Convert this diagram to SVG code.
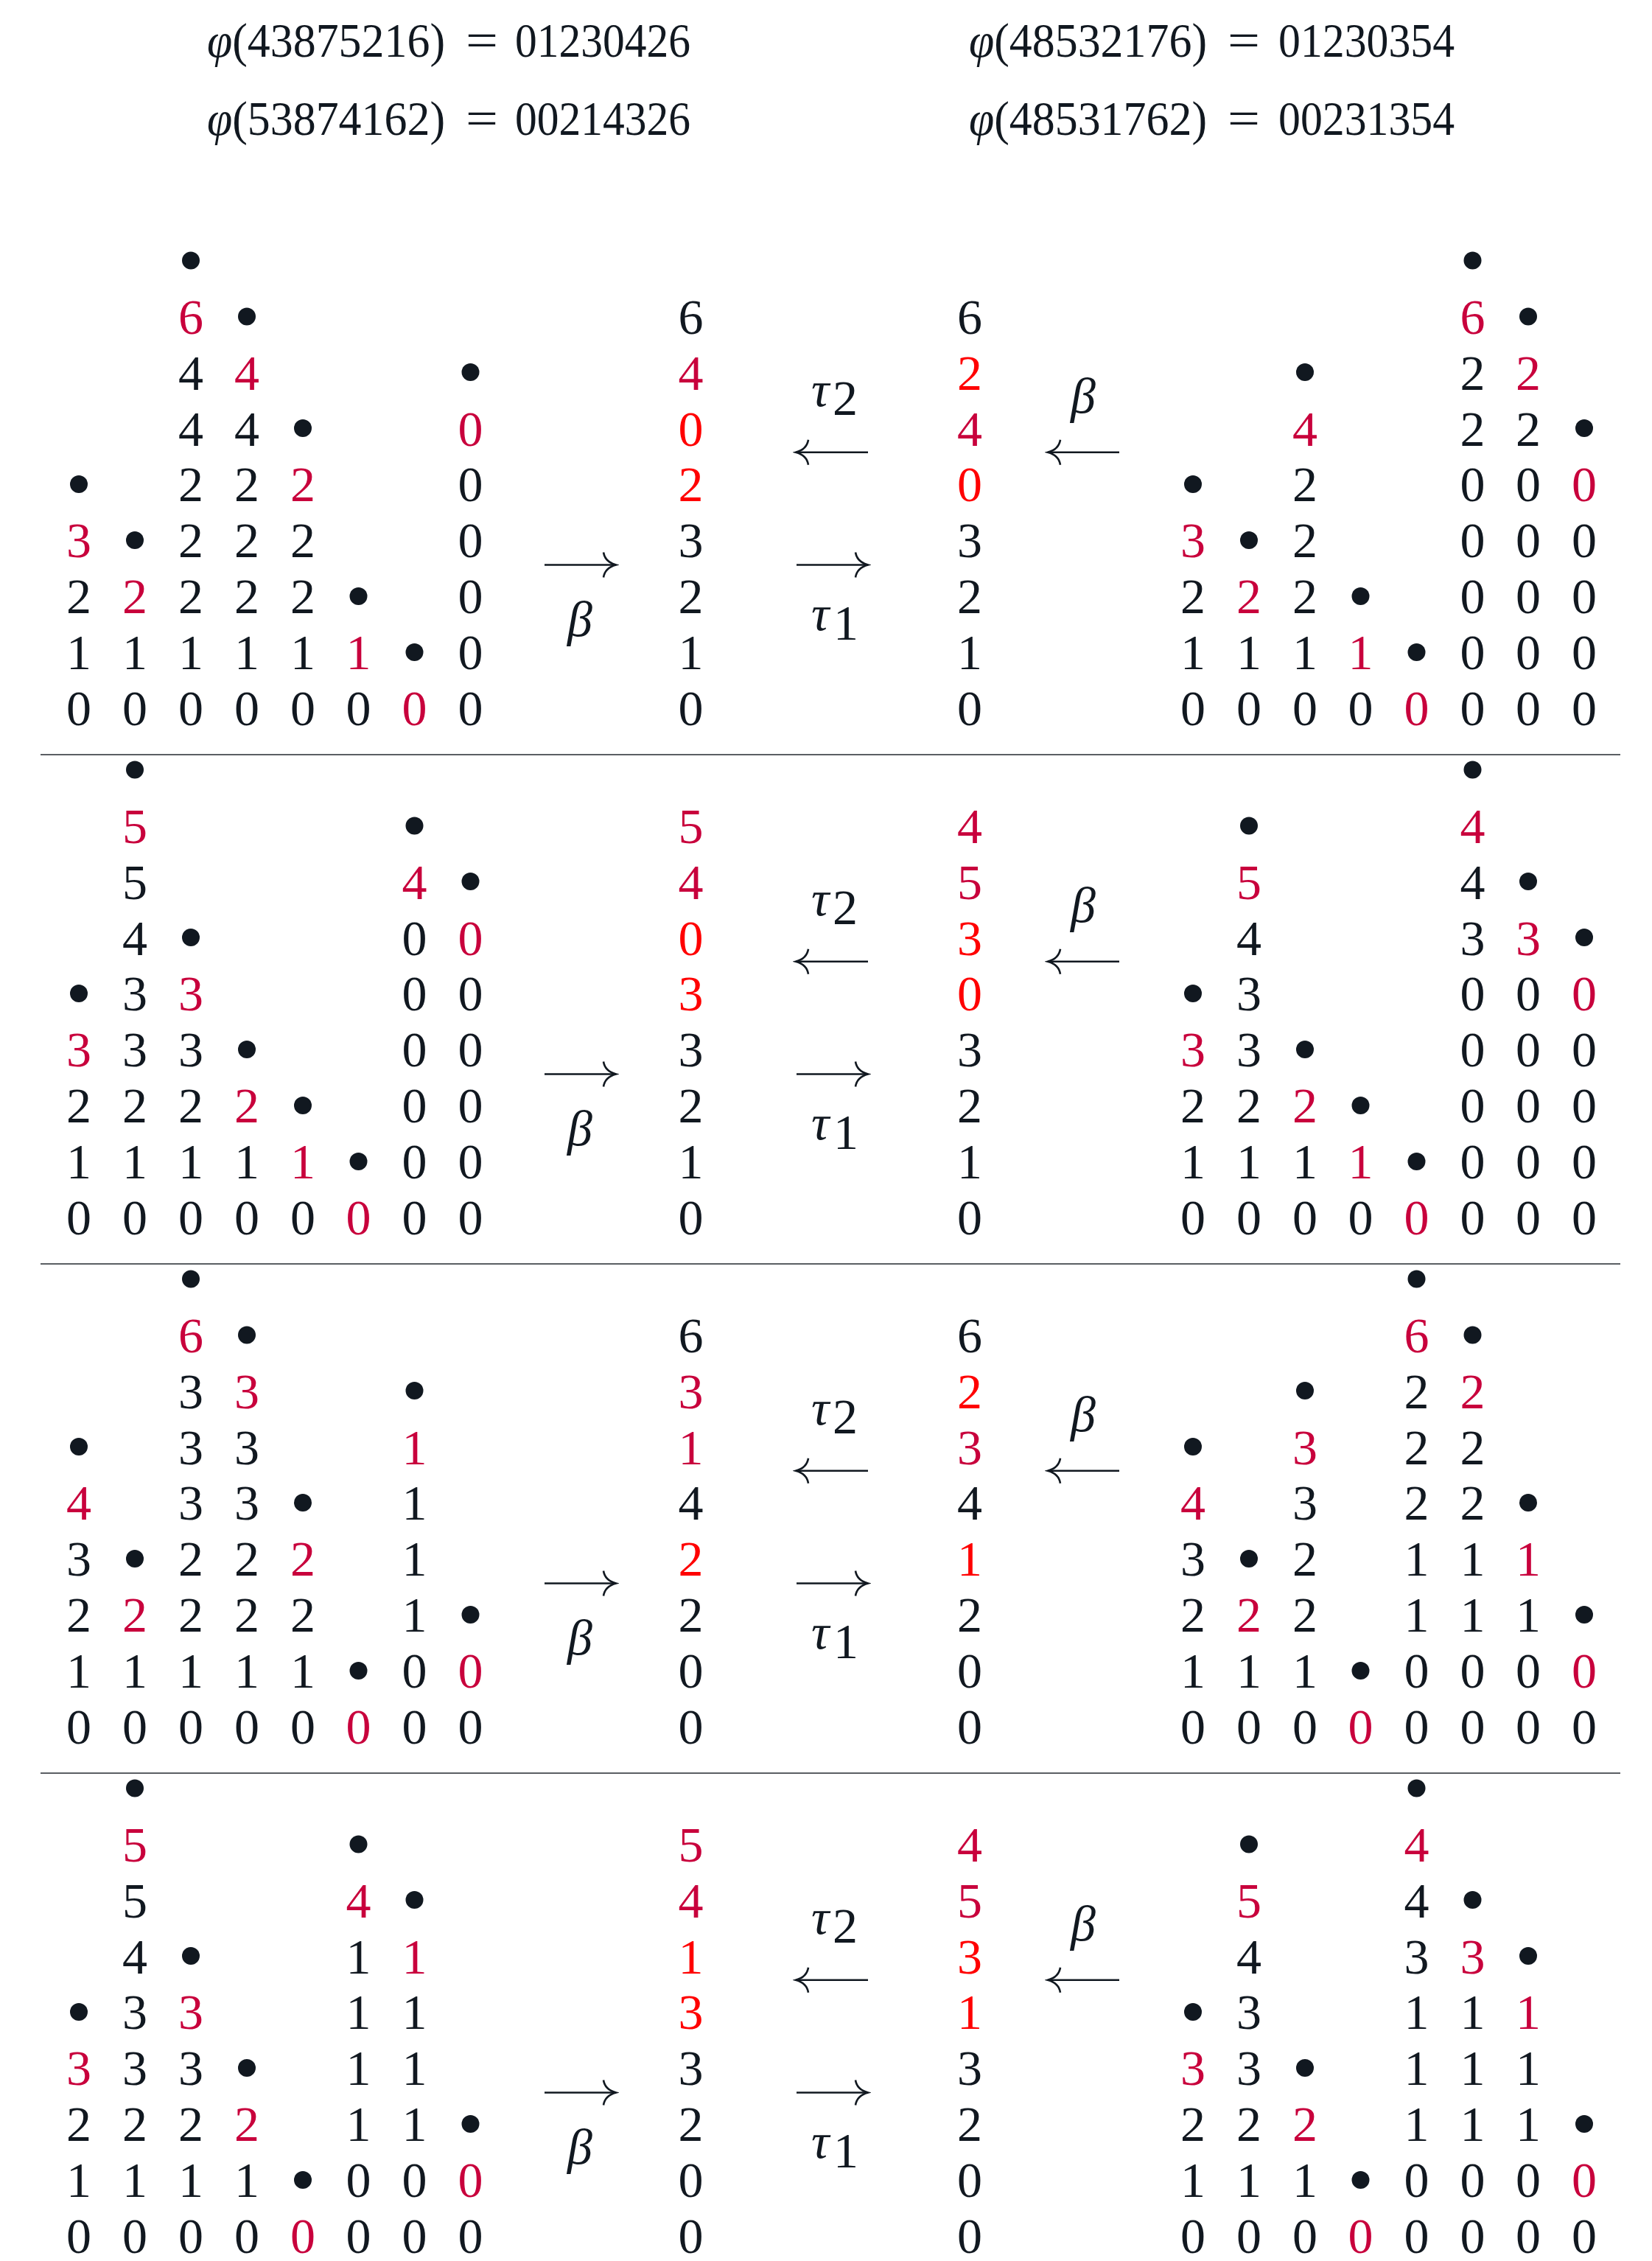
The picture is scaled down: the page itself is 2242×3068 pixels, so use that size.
<svg xmlns="http://www.w3.org/2000/svg" width="2242" height="3068" viewBox="0 0 2242 3068">
<style>
text{font-family:"Liberation Serif","Times New Roman",serif;font-size:68px;text-anchor:middle;fill:#111820}
text.h{text-anchor:start;font-size:66px}
text.i{font-style:italic}
text.s{text-anchor:start}
.c{fill:#c8003c}
.r{fill:#ff0000}
circle{fill:#111820}
.sep{stroke:#5a5e63;stroke-width:2}
.arr{stroke:#111820;stroke-width:2.6;fill:none}
</style>
<defs>
<marker id="ah" viewBox="-20 -20 24 40" refX="0" refY="0" markerWidth="24" markerHeight="40" markerUnits="userSpaceOnUse" orient="auto">
<path d="M-17,-17 Q-15,-4 0,0 Q-15,4 -17,17" fill="none" stroke="#111820" stroke-width="2.6"/>
</marker>
<g id="arrows">
<path class="arr" d="M739,766.5 H836" marker-end="url(#ah)"/>
<path class="arr" d="M1081,766.5 H1178" marker-end="url(#ah)"/>
<path class="arr" d="M1178,613.8 H1080" marker-end="url(#ah)"/>
<path class="arr" d="M1519,613.8 H1422" marker-end="url(#ah)"/>
</g>
</defs>

<g id="header">
<text class="h" x="281" y="77" textLength="323" lengthAdjust="spacingAndGlyphs"><tspan font-style="italic">φ</tspan>(43875216)</text>
<text class="h" x="632" y="77" textLength="44" lengthAdjust="spacingAndGlyphs">=</text>
<text class="h" x="699" y="77" textLength="238" lengthAdjust="spacingAndGlyphs">01230426</text>
<text class="h" x="281" y="183" textLength="323" lengthAdjust="spacingAndGlyphs"><tspan font-style="italic">φ</tspan>(53874162)</text>
<text class="h" x="632" y="183" textLength="44" lengthAdjust="spacingAndGlyphs">=</text>
<text class="h" x="699" y="183" textLength="238" lengthAdjust="spacingAndGlyphs">00214326</text>
<text class="h" x="1315" y="77" textLength="323" lengthAdjust="spacingAndGlyphs"><tspan font-style="italic">φ</tspan>(48532176)</text>
<text class="h" x="1666" y="77" textLength="44" lengthAdjust="spacingAndGlyphs">=</text>
<text class="h" x="1735" y="77" textLength="239" lengthAdjust="spacingAndGlyphs">01230354</text>
<text class="h" x="1315" y="183" textLength="323" lengthAdjust="spacingAndGlyphs"><tspan font-style="italic">φ</tspan>(48531762)</text>
<text class="h" x="1666" y="183" textLength="44" lengthAdjust="spacingAndGlyphs">=</text>
<text class="h" x="1735" y="183" textLength="239" lengthAdjust="spacingAndGlyphs">00231354</text>
</g>

<g id="separators">
<line class="sep" x1="55" y1="1024" x2="2199" y2="1024"/>
<line class="sep" x1="55" y1="1715" x2="2199" y2="1715"/>
<line class="sep" x1="55" y1="2406" x2="2199" y2="2406"/>
</g>

<g id="connectors">
<use href="#arrows"/>
<use href="#arrows" transform="translate(0,691)"/>
<use href="#arrows" transform="translate(0,1382)"/>
<use href="#arrows" transform="translate(0,2073)"/>
</g>

<!-- Panel 1 -->
<g id="panel1">
<g id="p1-left">
<g transform="translate(107,0)"><text y="984">0</text><text y="908">1</text><text y="832">2</text><text y="756" class="c">3</text><circle cy="657" r="12"/></g>
<g transform="translate(183,0)"><text y="984">0</text><text y="908">1</text><text y="832" class="c">2</text><circle cy="733" r="12"/></g>
<g transform="translate(259,0)"><text y="984">0</text><text y="908">1</text><text y="832">2</text><text y="756">2</text><text y="680">2</text><text y="604.5">4</text><text y="528.5">4</text><text y="452.5" class="c">6</text><circle cy="353.5" r="12"/></g>
<g transform="translate(335,0)"><text y="984">0</text><text y="908">1</text><text y="832">2</text><text y="756">2</text><text y="680">2</text><text y="604.5">4</text><text y="528.5" class="c">4</text><circle cy="429.5" r="12"/></g>
<g transform="translate(411,0)"><text y="984">0</text><text y="908">1</text><text y="832">2</text><text y="756">2</text><text y="680" class="c">2</text><circle cy="581" r="12"/></g>
<g transform="translate(486.5,0)"><text y="984">0</text><text y="908" class="c">1</text><circle cy="809" r="12"/></g>
<g transform="translate(562.5,0)"><text y="984" class="c">0</text><circle cy="885" r="12"/></g>
<g transform="translate(638.5,0)"><text y="984">0</text><text y="908">0</text><text y="832">0</text><text y="756">0</text><text y="680">0</text><text y="604.5" class="c">0</text><circle cy="505" r="12"/></g>
</g>
<g id="p1-mid">
<g transform="translate(937.5,0)"><text y="984">0</text><text y="908">1</text><text y="832">2</text><text y="756">3</text><text y="680" class="r">2</text><text y="604.5" class="r">0</text><text y="528.5" class="c">4</text><text y="452.5">6</text></g>
<g transform="translate(1316,0)"><text y="984">0</text><text y="908">1</text><text y="832">2</text><text y="756">3</text><text y="680" class="r">0</text><text y="604.5" class="c">4</text><text y="528.5" class="r">2</text><text y="452.5">6</text></g>
<text class="i" x="787" y="863">β</text>
<text class="i s" x="1101" y="855">τ</text><text class="s" x="1131" y="868" font-size="44">1</text>
<text class="i s" x="1101" y="551">τ</text><text class="s" x="1130" y="563" font-size="44">2</text>
<text class="i" x="1470" y="560">β</text>
</g>
<g id="p1-right">
<g transform="translate(1619,0)"><text y="984">0</text><text y="908">1</text><text y="832">2</text><text y="756" class="c">3</text><circle cy="657" r="12"/></g>
<g transform="translate(1695,0)"><text y="984">0</text><text y="908">1</text><text y="832" class="c">2</text><circle cy="733" r="12"/></g>
<g transform="translate(1771,0)"><text y="984">0</text><text y="908">1</text><text y="832">2</text><text y="756">2</text><text y="680">2</text><text y="604.5" class="c">4</text><circle cy="505" r="12"/></g>
<g transform="translate(1846.5,0)"><text y="984">0</text><text y="908" class="c">1</text><circle cy="809" r="12"/></g>
<g transform="translate(1922.5,0)"><text y="984" class="c">0</text><circle cy="885" r="12"/></g>
<g transform="translate(1998.5,0)"><text y="984">0</text><text y="908">0</text><text y="832">0</text><text y="756">0</text><text y="680">0</text><text y="604.5">2</text><text y="528.5">2</text><text y="452.5" class="c">6</text><circle cy="353.5" r="12"/></g>
<g transform="translate(2074,0)"><text y="984">0</text><text y="908">0</text><text y="832">0</text><text y="756">0</text><text y="680">0</text><text y="604.5">2</text><text y="528.5" class="c">2</text><circle cy="429.5" r="12"/></g>
<g transform="translate(2150,0)"><text y="984">0</text><text y="908">0</text><text y="832">0</text><text y="756">0</text><text y="680" class="c">0</text><circle cy="581" r="12"/></g>
</g>
</g>

<!-- Panel 2 -->
<g id="panel2" transform="translate(0,691)">
<g id="p2-left">
<g transform="translate(107,0)"><text y="984">0</text><text y="908">1</text><text y="832">2</text><text y="756" class="c">3</text><circle cy="657" r="12"/></g>
<g transform="translate(183,0)"><text y="984">0</text><text y="908">1</text><text y="832">2</text><text y="756">3</text><text y="680">3</text><text y="604.5">4</text><text y="528.5">5</text><text y="452.5" class="c">5</text><circle cy="353.5" r="12"/></g>
<g transform="translate(259,0)"><text y="984">0</text><text y="908">1</text><text y="832">2</text><text y="756">3</text><text y="680" class="c">3</text><circle cy="581" r="12"/></g>
<g transform="translate(335,0)"><text y="984">0</text><text y="908">1</text><text y="832" class="c">2</text><circle cy="733" r="12"/></g>
<g transform="translate(411,0)"><text y="984">0</text><text y="908" class="c">1</text><circle cy="809" r="12"/></g>
<g transform="translate(486.5,0)"><text y="984" class="c">0</text><circle cy="885" r="12"/></g>
<g transform="translate(562.5,0)"><text y="984">0</text><text y="908">0</text><text y="832">0</text><text y="756">0</text><text y="680">0</text><text y="604.5">0</text><text y="528.5" class="c">4</text><circle cy="429.5" r="12"/></g>
<g transform="translate(638.5,0)"><text y="984">0</text><text y="908">0</text><text y="832">0</text><text y="756">0</text><text y="680">0</text><text y="604.5" class="c">0</text><circle cy="505" r="12"/></g>
</g>
<g id="p2-mid">
<g transform="translate(937.5,0)"><text y="984">0</text><text y="908">1</text><text y="832">2</text><text y="756">3</text><text y="680" class="r">3</text><text y="604.5" class="r">0</text><text y="528.5" class="c">4</text><text y="452.5" class="c">5</text></g>
<g transform="translate(1316,0)"><text y="984">0</text><text y="908">1</text><text y="832">2</text><text y="756">3</text><text y="680" class="r">0</text><text y="604.5" class="r">3</text><text y="528.5" class="c">5</text><text y="452.5" class="c">4</text></g>
<text class="i" x="787" y="863">β</text>
<text class="i s" x="1101" y="855">τ</text><text class="s" x="1131" y="868" font-size="44">1</text>
<text class="i s" x="1101" y="551">τ</text><text class="s" x="1130" y="563" font-size="44">2</text>
<text class="i" x="1470" y="560">β</text>
</g>
<g id="p2-right">
<g transform="translate(1619,0)"><text y="984">0</text><text y="908">1</text><text y="832">2</text><text y="756" class="c">3</text><circle cy="657" r="12"/></g>
<g transform="translate(1695,0)"><text y="984">0</text><text y="908">1</text><text y="832">2</text><text y="756">3</text><text y="680">3</text><text y="604.5">4</text><text y="528.5" class="c">5</text><circle cy="429.5" r="12"/></g>
<g transform="translate(1771,0)"><text y="984">0</text><text y="908">1</text><text y="832" class="c">2</text><circle cy="733" r="12"/></g>
<g transform="translate(1846.5,0)"><text y="984">0</text><text y="908" class="c">1</text><circle cy="809" r="12"/></g>
<g transform="translate(1922.5,0)"><text y="984" class="c">0</text><circle cy="885" r="12"/></g>
<g transform="translate(1998.5,0)"><text y="984">0</text><text y="908">0</text><text y="832">0</text><text y="756">0</text><text y="680">0</text><text y="604.5">3</text><text y="528.5">4</text><text y="452.5" class="c">4</text><circle cy="353.5" r="12"/></g>
<g transform="translate(2074,0)"><text y="984">0</text><text y="908">0</text><text y="832">0</text><text y="756">0</text><text y="680">0</text><text y="604.5" class="c">3</text><circle cy="505" r="12"/></g>
<g transform="translate(2150,0)"><text y="984">0</text><text y="908">0</text><text y="832">0</text><text y="756">0</text><text y="680" class="c">0</text><circle cy="581" r="12"/></g>
</g>
</g>

<!-- Panel 3 -->
<g id="panel3" transform="translate(0,1382)">
<g id="p3-left">
<g transform="translate(107,0)"><text y="984">0</text><text y="908">1</text><text y="832">2</text><text y="756">3</text><text y="680" class="c">4</text><circle cy="581" r="12"/></g>
<g transform="translate(183,0)"><text y="984">0</text><text y="908">1</text><text y="832" class="c">2</text><circle cy="733" r="12"/></g>
<g transform="translate(259,0)"><text y="984">0</text><text y="908">1</text><text y="832">2</text><text y="756">2</text><text y="680">3</text><text y="604.5">3</text><text y="528.5">3</text><text y="452.5" class="c">6</text><circle cy="353.5" r="12"/></g>
<g transform="translate(335,0)"><text y="984">0</text><text y="908">1</text><text y="832">2</text><text y="756">2</text><text y="680">3</text><text y="604.5">3</text><text y="528.5" class="c">3</text><circle cy="429.5" r="12"/></g>
<g transform="translate(411,0)"><text y="984">0</text><text y="908">1</text><text y="832">2</text><text y="756" class="c">2</text><circle cy="657" r="12"/></g>
<g transform="translate(486.5,0)"><text y="984" class="c">0</text><circle cy="885" r="12"/></g>
<g transform="translate(562.5,0)"><text y="984">0</text><text y="908">0</text><text y="832">1</text><text y="756">1</text><text y="680">1</text><text y="604.5" class="c">1</text><circle cy="505" r="12"/></g>
<g transform="translate(638.5,0)"><text y="984">0</text><text y="908" class="c">0</text><circle cy="809" r="12"/></g>
</g>
<g id="p3-mid">
<g transform="translate(937.5,0)"><text y="984">0</text><text y="908">0</text><text y="832">2</text><text y="756" class="r">2</text><text y="680">4</text><text y="604.5" class="c">1</text><text y="528.5" class="c">3</text><text y="452.5">6</text></g>
<g transform="translate(1316,0)"><text y="984">0</text><text y="908">0</text><text y="832">2</text><text y="756" class="r">1</text><text y="680">4</text><text y="604.5" class="c">3</text><text y="528.5" class="r">2</text><text y="452.5">6</text></g>
<text class="i" x="787" y="863">β</text>
<text class="i s" x="1101" y="855">τ</text><text class="s" x="1131" y="868" font-size="44">1</text>
<text class="i s" x="1101" y="551">τ</text><text class="s" x="1130" y="563" font-size="44">2</text>
<text class="i" x="1470" y="560">β</text>
</g>
<g id="p3-right">
<g transform="translate(1619,0)"><text y="984">0</text><text y="908">1</text><text y="832">2</text><text y="756">3</text><text y="680" class="c">4</text><circle cy="581" r="12"/></g>
<g transform="translate(1695,0)"><text y="984">0</text><text y="908">1</text><text y="832" class="c">2</text><circle cy="733" r="12"/></g>
<g transform="translate(1771,0)"><text y="984">0</text><text y="908">1</text><text y="832">2</text><text y="756">2</text><text y="680">3</text><text y="604.5" class="c">3</text><circle cy="505" r="12"/></g>
<g transform="translate(1846.5,0)"><text y="984" class="c">0</text><circle cy="885" r="12"/></g>
<g transform="translate(1922.5,0)"><text y="984">0</text><text y="908">0</text><text y="832">1</text><text y="756">1</text><text y="680">2</text><text y="604.5">2</text><text y="528.5">2</text><text y="452.5" class="c">6</text><circle cy="353.5" r="12"/></g>
<g transform="translate(1998.5,0)"><text y="984">0</text><text y="908">0</text><text y="832">1</text><text y="756">1</text><text y="680">2</text><text y="604.5">2</text><text y="528.5" class="c">2</text><circle cy="429.5" r="12"/></g>
<g transform="translate(2074,0)"><text y="984">0</text><text y="908">0</text><text y="832">1</text><text y="756" class="c">1</text><circle cy="657" r="12"/></g>
<g transform="translate(2150,0)"><text y="984">0</text><text y="908" class="c">0</text><circle cy="809" r="12"/></g>
</g>
</g>

<!-- Panel 4 -->
<g id="panel4" transform="translate(0,2073)">
<g id="p4-left">
<g transform="translate(107,0)"><text y="984">0</text><text y="908">1</text><text y="832">2</text><text y="756" class="c">3</text><circle cy="657" r="12"/></g>
<g transform="translate(183,0)"><text y="984">0</text><text y="908">1</text><text y="832">2</text><text y="756">3</text><text y="680">3</text><text y="604.5">4</text><text y="528.5">5</text><text y="452.5" class="c">5</text><circle cy="353.5" r="12"/></g>
<g transform="translate(259,0)"><text y="984">0</text><text y="908">1</text><text y="832">2</text><text y="756">3</text><text y="680" class="c">3</text><circle cy="581" r="12"/></g>
<g transform="translate(335,0)"><text y="984">0</text><text y="908">1</text><text y="832" class="c">2</text><circle cy="733" r="12"/></g>
<g transform="translate(411,0)"><text y="984" class="c">0</text><circle cy="885" r="12"/></g>
<g transform="translate(486.5,0)"><text y="984">0</text><text y="908">0</text><text y="832">1</text><text y="756">1</text><text y="680">1</text><text y="604.5">1</text><text y="528.5" class="c">4</text><circle cy="429.5" r="12"/></g>
<g transform="translate(562.5,0)"><text y="984">0</text><text y="908">0</text><text y="832">1</text><text y="756">1</text><text y="680">1</text><text y="604.5" class="c">1</text><circle cy="505" r="12"/></g>
<g transform="translate(638.5,0)"><text y="984">0</text><text y="908" class="c">0</text><circle cy="809" r="12"/></g>
</g>
<g id="p4-mid">
<g transform="translate(937.5,0)"><text y="984">0</text><text y="908">0</text><text y="832">2</text><text y="756">3</text><text y="680" class="r">3</text><text y="604.5" class="r">1</text><text y="528.5" class="c">4</text><text y="452.5" class="c">5</text></g>
<g transform="translate(1316,0)"><text y="984">0</text><text y="908">0</text><text y="832">2</text><text y="756">3</text><text y="680" class="r">1</text><text y="604.5" class="r">3</text><text y="528.5" class="c">5</text><text y="452.5" class="c">4</text></g>
<text class="i" x="787" y="863">β</text>
<text class="i s" x="1101" y="855">τ</text><text class="s" x="1131" y="868" font-size="44">1</text>
<text class="i s" x="1101" y="551">τ</text><text class="s" x="1130" y="563" font-size="44">2</text>
<text class="i" x="1470" y="560">β</text>
</g>
<g id="p4-right">
<g transform="translate(1619,0)"><text y="984">0</text><text y="908">1</text><text y="832">2</text><text y="756" class="c">3</text><circle cy="657" r="12"/></g>
<g transform="translate(1695,0)"><text y="984">0</text><text y="908">1</text><text y="832">2</text><text y="756">3</text><text y="680">3</text><text y="604.5">4</text><text y="528.5" class="c">5</text><circle cy="429.5" r="12"/></g>
<g transform="translate(1771,0)"><text y="984">0</text><text y="908">1</text><text y="832" class="c">2</text><circle cy="733" r="12"/></g>
<g transform="translate(1846.5,0)"><text y="984" class="c">0</text><circle cy="885" r="12"/></g>
<g transform="translate(1922.5,0)"><text y="984">0</text><text y="908">0</text><text y="832">1</text><text y="756">1</text><text y="680">1</text><text y="604.5">3</text><text y="528.5">4</text><text y="452.5" class="c">4</text><circle cy="353.5" r="12"/></g>
<g transform="translate(1998.5,0)"><text y="984">0</text><text y="908">0</text><text y="832">1</text><text y="756">1</text><text y="680">1</text><text y="604.5" class="c">3</text><circle cy="505" r="12"/></g>
<g transform="translate(2074,0)"><text y="984">0</text><text y="908">0</text><text y="832">1</text><text y="756">1</text><text y="680" class="c">1</text><circle cy="581" r="12"/></g>
<g transform="translate(2150,0)"><text y="984">0</text><text y="908" class="c">0</text><circle cy="809" r="12"/></g>
</g>
</g>
</svg>
